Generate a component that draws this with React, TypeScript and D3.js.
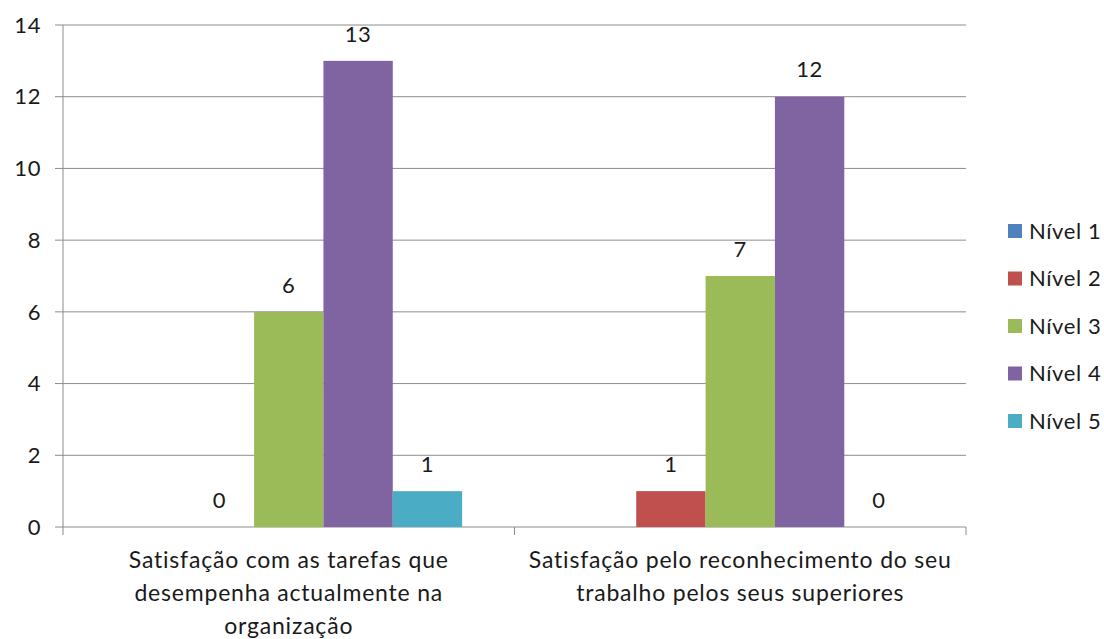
import React from "react";
import * as d3 from "d3";

const categories: string[][] = [
  ["Satisfação com as tarefas que", "desempenha actualmente na", "organização"],
  ["Satisfação pelo reconhecimento do seu", "trabalho pelos seus superiores"],
];
const seriesNames = ["Nível 1", "Nível 2", "Nível 3", "Nível 4", "Nível 5"];
const seriesColors = ["#4F81BD", "#C0504D", "#9BBB59", "#8064A2", "#4BACC6"];
const nivel1: (number | null)[] = [null, null];
const nivel2: (number | null)[] = [0, 1];
const nivel3: (number | null)[] = [6, 7];
const nivel4: (number | null)[] = [13, 12];
const nivel5: (number | null)[] = [1, 0];
const yTicks = [0, 2, 4, 6, 8, 10, 12, 14];

const seriesValues = [nivel1, nivel2, nivel3, nivel4, nivel5];

const W = 1104;
const H = 639;
const font = "Lato, 'Open Sans', sans-serif";
const textColor = "#1a1a1a";
const gridColor = "#8c8c8c";
const fs = 22;
const ls = 0.6;

export default function App() {
  const left = 63;
  const right = 966;
  const top = 25;
  const bottom = 527;
  const catKeys = categories.map((_, i) => String(i));
  const x0 = d3.scaleBand<string>().domain(catKeys).range([left, right]).paddingInner(0.232).paddingOuter(0.116);
  const x1 = d3.scaleBand<string>().domain(seriesNames).range([0, x0.bandwidth()]);
  const y = d3.scaleLinear().domain([0, 14]).range([bottom, top]);
  const step = x0.step();

  return (
    <svg width={W} height={H} style={{ position: "absolute", left: 0, top: 0, background: "#fff" }} fontFamily={font}>
      {/* gridlines */}
      {yTicks.map((t) => (
        <line key={"g" + t} x1={left - 8} x2={right} y1={y(t)} y2={y(t)} stroke={gridColor} strokeWidth={1} />
      ))}
      {/* y axis */}
      <line x1={left} x2={left} y1={top} y2={bottom} stroke={gridColor} strokeWidth={1} />
      {yTicks.map((t) => (
        <text key={"yt" + t} x={left - 22} y={y(t)} dy="0.35em" textAnchor="end" fontSize={fs} letterSpacing={ls} fill={textColor}>
          {t}
        </text>
      ))}
      {/* x axis ticks */}
      {d3.range(categories.length + 1).map((i) => (
        <line key={"xt" + i} x1={left + i * step} x2={left + i * step} y1={bottom} y2={bottom + 8} stroke={gridColor} strokeWidth={1} />
      ))}
      {/* bars */}
      {categories.map((_, ci) =>
        seriesNames.map((s, si) => {
          const v = seriesValues[si][ci];
          if (v === null) return null;
          const bx = (x0(String(ci)) as number) + (x1(s) as number);
          return (
            <g key={ci + "-" + si}>
              {v > 0 && (
                <rect x={bx} y={y(v)} width={x1.bandwidth()} height={y(0) - y(v)} fill={seriesColors[si]} />
              )}
              <text x={bx + x1.bandwidth() / 2} y={y(v) - 27} dy="0.35em" textAnchor="middle" fontSize={fs} letterSpacing={ls} fill={textColor}>
                {v}
              </text>
            </g>
          );
        })
      )}
      {/* category labels */}
      {categories.map((lines, ci) => (
        <text key={"c" + ci} textAnchor="middle" fontSize={23} letterSpacing={0.8} fill={textColor}>
          {lines.map((ln, li) => (
            <tspan key={li} x={(x0(String(ci)) as number) + x0.bandwidth() / 2} y={560 + li * 33} dy="0.35em">
              {ln}
            </tspan>
          ))}
        </text>
      ))}
      {/* legend */}
      {seriesNames.map((s, i) => (
        <g key={"l" + s} transform={`translate(1008, ${231 + i * 47.5})`}>
          <rect x={0} y={-7} width={14} height={14} fill={seriesColors[i]} />
          <text x={21} y={0} dy="0.35em" fontSize={fs} letterSpacing={ls} fill={textColor}>
            {s}
          </text>
        </g>
      ))}
    </svg>
  );
}
